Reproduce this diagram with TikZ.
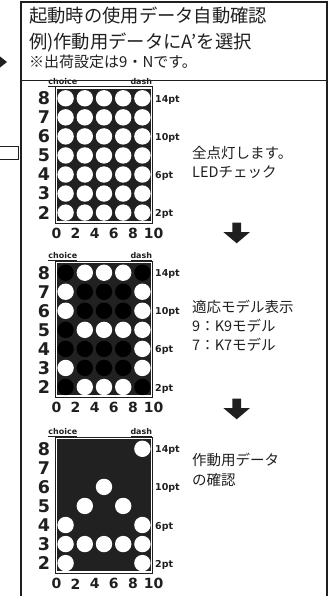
\documentclass[tikz,border=0pt]{standalone}
\usepackage{fontspec}
\setmainfont{DejaVu Sans}
\newfontfamily\jp{Noto Sans CJK JP}
\definecolor{ink}{gray}{0.12}
\definecolor{matbg}{gray}{0.13}
\tikzset{
  titleA/.style={font=\jp\fontsize{18.3}{22}\selectfont, anchor=west, inner sep=0pt, text=ink},
  titleB/.style={font=\jp\fontsize{15}{18}\selectfont, anchor=west, inner sep=0pt, text=ink},
  desc/.style={font=\jp\fontsize{14.5}{19}\selectfont, anchor=west, inner sep=0pt, text=ink},
  rowlab/.style={font=\bfseries\fontsize{17.5}{17.5}\selectfont, inner sep=0pt, text=ink},
  botlab/.style={font=\bfseries\fontsize{14}{14}\selectfont, inner sep=0pt, text=ink},
  ptlab/.style={font=\bfseries\fontsize{9.5}{9.5}\selectfont, anchor=west, inner sep=0pt, text=ink},
  toplab/.style={font=\bfseries\fontsize{8}{8}\selectfont, inner sep=0pt, text=ink},
  frameline/.style={line width=0.7pt, draw=ink},
  blockarrow/.style={fill=ink},
}
\newcommand\ledpanel[4]{% #1 y of row 8, #2 name, #3 pattern, #4 show off LEDs
\begin{scope}[shift={(0,#1)}]
  \draw[frameline] (55,-11.7) rectangle (152.7,124.6);
  \fill[matbg] (57.3,-9.4) rectangle (150.5,122.6);
  \foreach \a/\b/\c/\d/\e [count=\i from 0] in {#3} {
    \foreach \bit [count=\j from 0] in {\a,\b,\c,\d,\e} {
      \ifnum\bit=1
        \fill[white] (65.6+19.2*\j, 19.05*\i) circle (8.2);
      \else
        \ifnum#4=1 \fill[black] (65.6+19.2*\j, 19.05*\i) circle (8.2); \fi
      \fi
    }
  }
  \foreach \r [count=\i from 0] in {8,7,6,5,4,3,2}
    \node[rowlab] (#2row\r) at (44, 19.05*\i) {\r};
  \foreach \v [count=\k from 0] in {0,2,4,6,8}
    \node[botlab] (#2bot\v) at (56.5+19.1*\k, 135) {\v};
  \node[botlab] (#2bot10) at (153.5, 135) {10};
  \node[ptlab] (#2pA) at (155, 1.5) {14pt};
  \node[ptlab] (#2pB) at (155, 39.6) {10pt};
  \node[ptlab] (#2pC) at (155, 77.7) {6pt};
  \node[ptlab] (#2pD) at (155, 115.8) {2pt};
  \node[toplab] (#2choice) at (62.8,-16) {\underline{choice}};
  \node[toplab] (#2dash) at (141.3,-16) {\underline{dash}};
\end{scope}}
\newcommand\blockdown[1]{%
\fill[blockarrow,shift={(0,#1)}] (232.3,0) -- (241,0) -- (241,9.3) -- (250,9.3) -- (236.7,20.6) -- (223.3,9.3) -- (232.3,9.3) -- cycle;}
\begin{document}
\begin{tikzpicture}[x=1pt,y=-1pt]
\useasboundingbox (0,0) rectangle (331,596);
% outer box
\draw[line width=1.4pt, draw=ink] (21,596) -- (21,2) -- (327,2) -- (327,596);
\draw[line width=1pt, draw=ink] (21,81) -- (327,81);
% partial items at left edge
\fill[ink] (0,56.5) -- (7,62) -- (0,67.5) -- cycle;
\draw[line width=0.8pt, draw=ink] (0,146) -- (18.5,146) -- (18.5,159) -- (0,159);
% title
\node[titleA] (t1) at (29,15.5) {起動時の使用データ自動確認};
\node[titleA] (t2) at (29,42) {例)作動用データにA’を選択};
\node[titleB] (t3) at (29,62) {※出荷設定は9・Nです。};
% panels
\ledpanel{98.3}{pa}{1/1/1/1/1,1/1/1/1/1,1/1/1/1/1,1/1/1/1/1,1/1/1/1/1,1/1/1/1/1,1/1/1/1/1}{1}
\ledpanel{272.7}{pb}{0/1/1/1/0,1/0/0/0/1,1/0/0/0/1,0/1/1/1/1,0/0/0/0/1,1/0/0/0/1,0/1/1/1/0}{1}
\ledpanel{448.8}{pc}{0/0/0/0/1,0/0/0/0/0,0/0/1/0/0,0/1/0/1/0,1/0/0/0/1,1/1/1/1/1,1/0/0/0/1}{0}
% descriptions
\node[desc] (d1a) at (192,153.3) {全点灯します。};
\node[desc] (d1b) at (192,172) {LEDチェック};
\node[desc] (d2a) at (192,306.7) {適応モデル表示};
\node[desc] (d2b) at (192,326) {9：K9モデル};
\node[desc] (d2c) at (192,345) {7：K7モデル};
\node[desc] (d3a) at (192,460) {作動用データ};
\node[desc] (d3b) at (192,480) {の確認};
% arrows
\blockdown{222.7}
\blockdown{398.7}
\end{tikzpicture}
\end{document}
